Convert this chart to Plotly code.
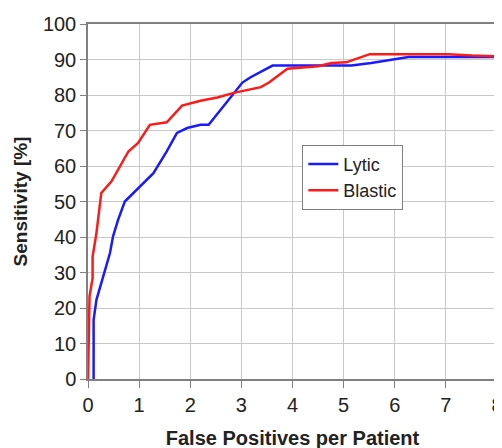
import plotly.graph_objects as go

lytic_fp = [0.11, 0.11, 0.165, 0.26, 0.35, 0.43, 0.49, 0.59, 0.72, 1.02, 1.28, 1.54, 1.74, 1.94, 2.2, 2.36, 2.85, 3.02, 3.18, 3.61, 5.15, 5.54, 6.27, 8.0]
lytic_sens = [0.0, 16.7, 22.3, 27.0, 31.7, 35.5, 40.2, 44.9, 50.0, 54.3, 58.0, 64.1, 69.3, 70.7, 71.6, 71.6, 80.6, 83.5, 85.0, 88.3, 88.3, 89.0, 90.7, 90.7]

blastic_fp = [0.0, 0.02, 0.03, 0.09, 0.09, 0.165, 0.23, 0.26, 0.46, 0.79, 0.98, 1.21, 1.54, 1.84, 2.2, 2.53, 2.85, 3.18, 3.38, 3.54, 3.9, 4.5, 4.76, 5.05, 5.51, 7.05, 7.51, 8.0]
blastic_sens = [0.0, 20.5, 23.3, 28.4, 34.5, 41.1, 49.6, 52.4, 55.7, 64.1, 66.5, 71.6, 72.3, 77.0, 78.4, 79.3, 80.6, 81.5, 82.2, 83.5, 87.4, 88.1, 89.0, 89.2, 91.5, 91.5, 91.1, 90.9]

x_ticks = [0, 1, 2, 3, 4, 5, 6, 7, 8]
y_ticks = [0, 10, 20, 30, 40, 50, 60, 70, 80, 90, 100]

fig = go.Figure()
fig.add_trace(go.Scatter(x=lytic_fp, y=lytic_sens, mode="lines", name="Lytic",
                         line=dict(color="#1a1aff", width=2.5)))
fig.add_trace(go.Scatter(x=blastic_fp, y=blastic_sens, mode="lines", name="Blastic",
                         line=dict(color="#ff1a1a", width=2.5)))

font_family = "Liberation Sans, Arial, sans-serif"
fig.update_layout(
    width=502, height=448,
    margin=dict(l=80, r=13, t=16, b=77),
    paper_bgcolor="white", plot_bgcolor="white",
    font=dict(family=font_family, size=20, color="#222222"),
    showlegend=True,
    legend=dict(x=0.524, y=0.66, xanchor="left", yanchor="top",
                bordercolor="#808080", borderwidth=1, bgcolor="white",
                font=dict(size=18, color="#222222"),
                tracegroupgap=0, itemwidth=30),
    xaxis=dict(range=[0, 8], tickvals=x_ticks, ticktext=[str(v) for v in x_ticks],
               automargin=False,
               showgrid=True, gridcolor="#c8c8c8", gridwidth=1,
               showline=True, linecolor="#808080", linewidth=1.5, mirror=True,
               ticks="outside", ticklen=7, tickcolor="#808080",
               zeroline=False,
               title=dict(text="<b>False Positives per Patient</b>",
                          font=dict(size=20, color="#222222"), standoff=16)),
    yaxis=dict(range=[0, 100], tickvals=y_ticks, ticktext=[str(v) for v in y_ticks],
               automargin=False,
               showgrid=True, gridcolor="#c8c8c8", gridwidth=1,
               showline=True, linecolor="#808080", linewidth=1.5, mirror=True,
               ticks="outside", ticklen=6, tickcolor="#808080",
               zeroline=False,
               title=dict(text="<b>Sensitivity [%]</b>",
                          font=dict(size=19, color="#222222"), standoff=10)),
)

fig.write_html("out.html")
